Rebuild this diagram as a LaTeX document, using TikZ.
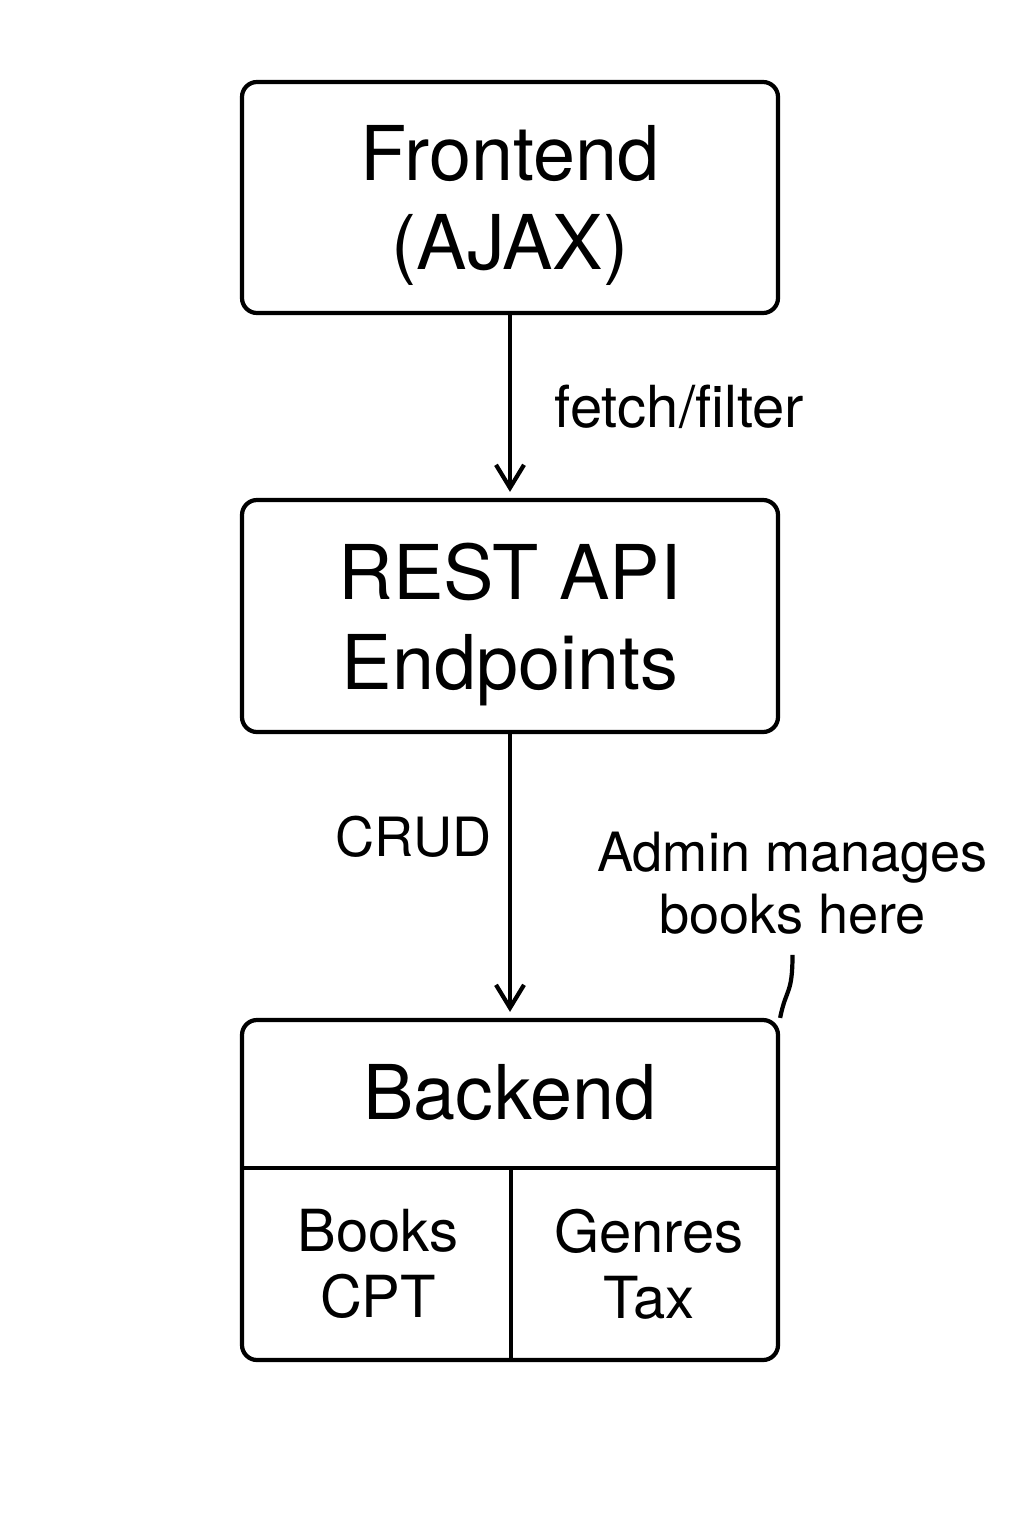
\documentclass[tikz,border=0pt]{standalone}
\usepackage{fontspec}
\setmainfont{TeX Gyre Heros}
\usetikzlibrary{arrows.meta}
\begin{document}
\begin{tikzpicture}[
    box/.style={draw,line width=1.2pt,rounded corners=0.15cm,minimum width=5.36cm,align=center},
    big/.style={font=\fontsize{21.5}{25.5}\selectfont,text depth=0pt},
    small/.style={font=\fontsize{16.5}{18.8}\selectfont,align=center},
    note/.style={font=\fontsize{15.4}{17.6}\selectfont,align=center},
    flow/.style={line width=1.2pt,-{Straight Barb[length=2.3mm,width=2.8mm,line width=1.2pt]},shorten >=0.06cm}
  ]
  \useasboundingbox (0,0) rectangle (10.24,-15.36);

  \node[box,big,minimum height=2.31cm] (frontend) at (5.10,-1.975) {Frontend\\(AJAX)};
  \node[box,big,minimum height=2.32cm] (rest) at (5.10,-6.16) {REST API\\Endpoints};
  \node[box,minimum height=3.40cm] (backend) at (5.10,-11.90) {};
%%%
  \node[big] (backtitle) at (5.10,-10.92) {Backend};
  \coordinate (splitw) at (2.42,-11.68);
  \coordinate (splite) at (7.78,-11.68);
  \coordinate (splitt) at (5.11,-11.68);
  \coordinate (splitb) at (5.11,-13.60);
  \draw[line width=1.2pt] (splitw) -- (splite);
  \draw[line width=1.2pt] (splitt) -- (splitb);
  \node[small] (books) at (3.78,-12.64) {Books\\CPT};
  \node[small] (genres) at (6.49,-12.64) {Genres\\Tax};
%%%
  \draw[flow] (frontend) -- (rest)
    node[small,midway,right=0.31cm] (fetch) {fetch/filter};
  \draw[flow] (rest) -- (backend)
    node[note,pos=0.36,left=0.05cm] (crud) {CRUD};
%%%
  \node[note,inner sep=0.2cm] (admin) at (7.925,-8.83) {Admin manages\\books here};
  \draw[line width=1.2pt] (admin.south) .. controls +(0,-0.4) and +(0.06,0.3) .. (backend.north east);
\end{tikzpicture}
\end{document}
